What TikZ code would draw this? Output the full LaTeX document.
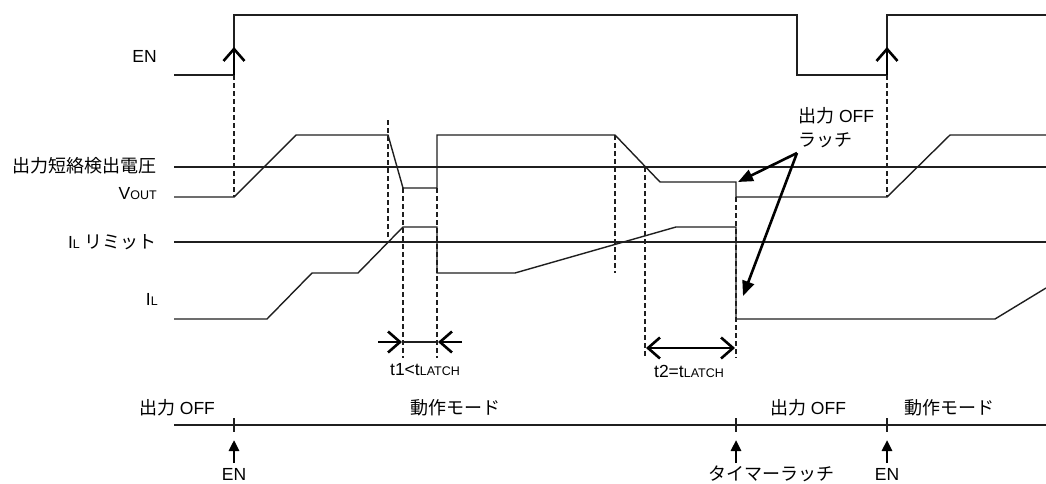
\documentclass[tikz,border=0pt]{standalone}
\usepackage{fontspec}
\setmainfont{Liberation Sans}
\newfontfamily\jpfont{Noto Sans CJK JP}
\usetikzlibrary{arrows.meta}
\newcommand\jpt[1]{{\jpfont\fontsize{18}{20}\selectfont #1}}
\newcommand\lowsz[1]{{\fontsize{12.5}{14}\selectfont #1}}
\begin{document}
\begin{tikzpicture}[x=1pt,y=-1pt,
  sig/.style={line width=1.4pt, line join=miter, color=black!88},
  guide/.style={line width=1.2pt, dash pattern=on 5pt off 3pt, color=black!88},
  txt/.style={inner sep=0pt, font=\fontsize{17.5}{20}\selectfont},
  barb/.style={line width=2.6pt, -{Straight Barb[length=12pt,width=21pt]}},
  dbarb/.style={line width=2.6pt, {Straight Barb[length=12pt,width=21pt]}-{Straight Barb[length=12pt,width=21pt]}},
  fillarrow/.style={line width=2.6pt, -{Triangle[length=15pt,width=12pt]}},
  uparrow/.style={line width=2.6pt, -{Triangle[length=11pt,width=10pt]}},
]
\useasboundingbox (0,0) rectangle (1046,483);

% ---------- left labels ----------
\node[txt, anchor=base east] (lEN) at (157,62) {EN};
\node[txt, anchor=east] (lth) at (157,166) {\jpt{出力短絡検出電圧}};
\node[txt, anchor=base east] (lvout) at (157,199) {V\lowsz{OUT}};
\node[txt, anchor=east] (llim) at (157,242) {I\lowsz{L} \jpt{リミット}};
\node[txt, anchor=base east] (lil) at (158,305) {I\lowsz{L}};

% ---------- EN ----------
\draw[sig] (174,75) -- (234,75) -- (234,15) -- (797,15) -- (797,75) -- (887,75) -- (887,15) -- (1046,15);
\draw[barb] (234,76) -- (234,47);
\draw[barb] (887,76) -- (887,47);

% ---------- reference lines ----------
\draw[sig] (174,167) -- (1046,167);
\draw[sig] (174,242) -- (1046,242);

% ---------- VOUT ----------
\draw[sig] (174,197) -- (234,197) -- (296,135) -- (388,135) -- (403,188) -- (437,188) -- (437,135)
  -- (615,135) -- (660,182) -- (736,182) -- (736,197) -- (887,197) -- (950,135) -- (1046,135);

% ---------- IL ----------
\draw[sig] (174,319) -- (267,319) -- (312,273) -- (358,273) -- (403,227) -- (437,227) -- (437,273)
  -- (515,273) -- (676,227) -- (736,227) -- (736,319) -- (995,319) -- (1046,288);

% ---------- dashed guides ----------
\draw[guide] (234,75) -- (234,197);
\draw[guide] (887,75) -- (887,197);
\draw[guide] (388,120) -- (388,238);
\draw[guide] (403,188) -- (403,358);
\draw[guide] (437,188) -- (437,358);
\draw[guide] (615,135) -- (615,273);
\draw[guide] (645,167) -- (645,358);
\draw[guide] (736,197) -- (736,358);

% ---------- t1 ----------
\draw[sig] (403,342) -- (437,342);
\draw[barb] (378,342) -- (402,342);
\draw[barb] (462,342) -- (438,342);
\node[txt, anchor=base] (t1) at (425,375) {t1<t\lowsz{LATCH}};

% ---------- t2 ----------
\draw[dbarb] (646,348) -- (735,348);
\node[txt, anchor=base] (t2) at (689,377) {t2=t\lowsz{LATCH}};

% ---------- latch label ----------
\node[txt, anchor=base west, align=left] (latch) at (798,146) {\jpt{出力} OFF\\[4pt]\jpt{ラッチ}};
\coordinate (lo) at (797,153);
\coordinate (vtip) at (738,182);
\coordinate (itip) at (743,296);
\draw[fillarrow] (lo) -- (vtip);
\draw[fillarrow] (lo) -- (itip);

% ---------- mode timeline ----------
\draw[sig] (174,425) -- (1046,425);
\foreach \x in {234,736,887} \draw[sig] (\x,418) -- (\x,432);
\foreach \x in {234,736,887} \draw[uparrow] (\x,463) -- (\x,440);

\node[txt, anchor=base] (m1) at (177,414) {\jpt{出力} OFF};
\node[txt, anchor=base] (m2) at (455,414) {\jpt{動作モード}};
\node[txt, anchor=base] (m3) at (808,414) {\jpt{出力} OFF};
\node[txt, anchor=base] (m4) at (949,414) {\jpt{動作モード}};

\node[txt, anchor=base] (b1) at (234,480) {EN};
\node[txt, anchor=base west] (b2) at (708,480) {\jpt{タイマーラッチ}};
\node[txt, anchor=base] (b3) at (887,480) {EN};
\end{tikzpicture}
\end{document}
